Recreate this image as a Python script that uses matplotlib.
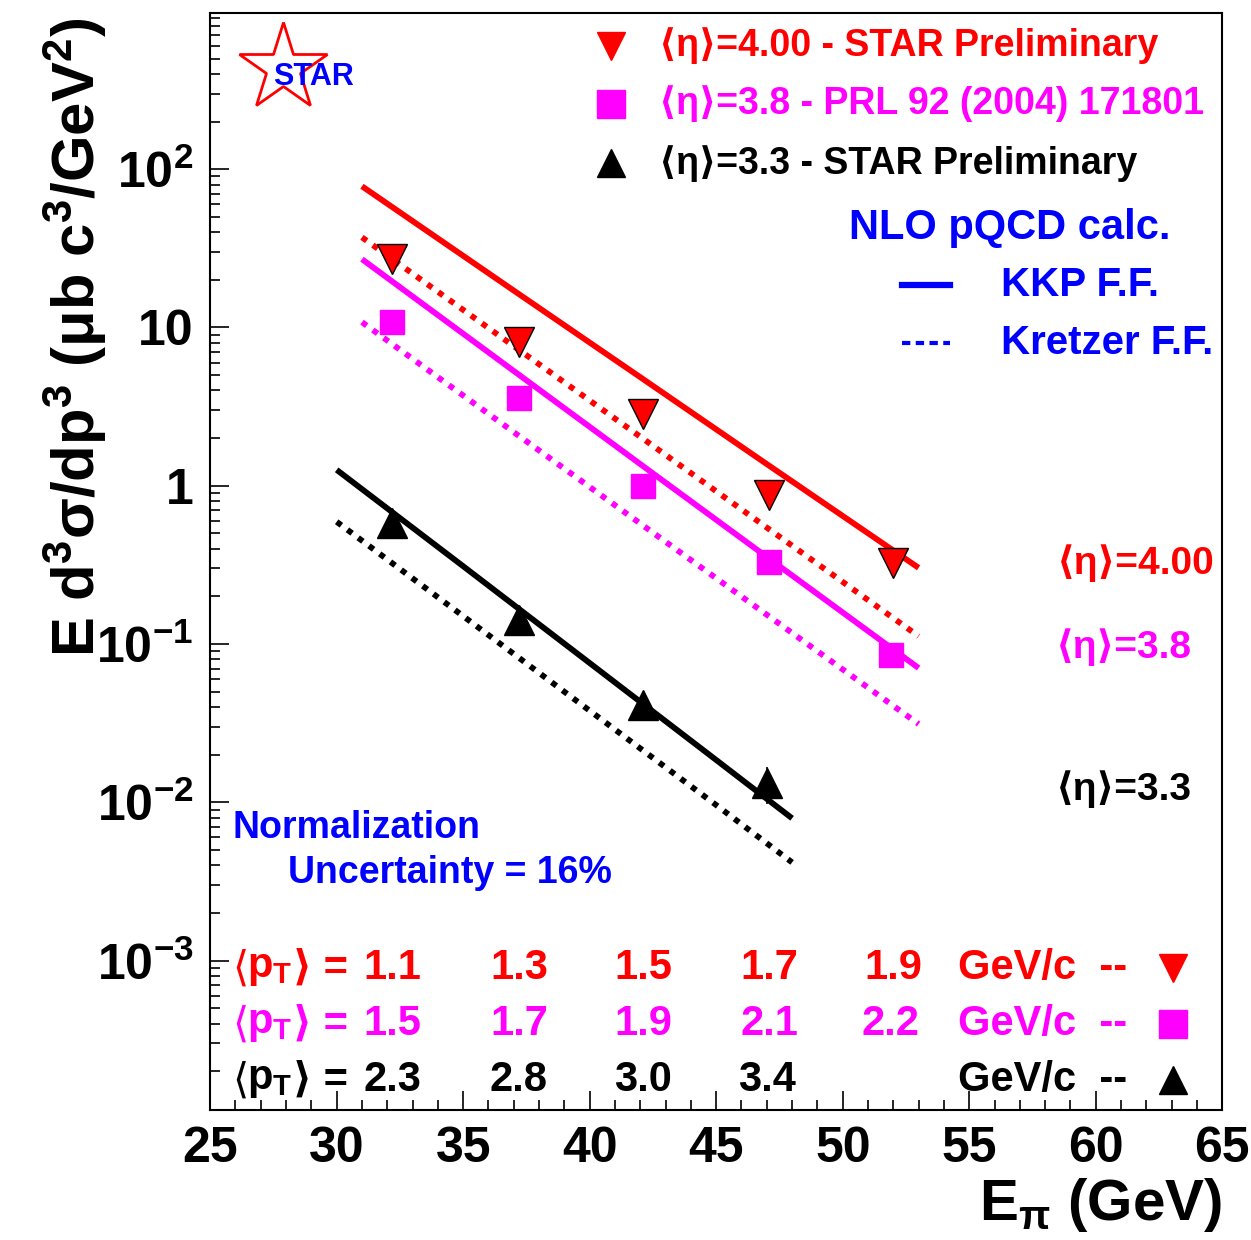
import numpy as np
import matplotlib
matplotlib.use("Agg")
import matplotlib.pyplot as plt
from matplotlib.ticker import FixedLocator, FixedFormatter, LogLocator, MultipleLocator, NullFormatter

plt.rcParams["font.family"] = ["Liberation Sans", "DejaVu Sans"]
plt.rcParams["mathtext.fontset"] = "custom"
plt.rcParams["mathtext.rm"] = "Liberation Sans"
plt.rcParams["mathtext.bf"] = "Liberation Sans:bold"
plt.rcParams["mathtext.it"] = "Liberation Sans:italic"

RED, MAG, BLK, BLUE = "#ff0000", "#ff00ff", "#000000", "#0000ff"

# ─── Data ─────────────────────────────────────────────────────────────────────
# measured points
e_eta400 = [32.2, 37.2, 42.1, 47.1, 52.0]
y_eta400 = [27.0, 8.15, 2.86, 0.877, 0.326]
err_eta400 = [2.0, 0.6, 0.2, 0.07, 0.04]

e_eta38 = [32.2, 37.2, 42.1, 47.1, 51.9]
y_eta38 = [10.8, 3.6, 1.0, 0.33, 0.085]
err_eta38 = [1.8, 0.3, 0.08, 0.03, 0.012]

e_eta33 = [32.2, 37.2, 42.1, 47.0]
y_eta33 = [0.583, 0.142, 0.041, 0.0132]
err_eta33 = [0.04, 0.012, 0.004, 0.0035]

# NLO pQCD curves (KKP solid, Kretzer dotted)
e_curve_fwd = [31, 37, 42, 47, 53]
kkp_eta400 = [78.0, 17.1, 4.85, 1.37, 0.303]
kre_eta400 = [37.1, 7.62, 2.04, 0.544, 0.112]
kkp_eta38 = [27.0, 5.31, 1.37, 0.355, 0.0705]
kre_eta38 = [10.8, 2.18, 0.577, 0.153, 0.0312]

e_curve_33 = [30, 35, 40, 45, 48]
kkp_eta33 = [1.26, 0.31, 0.0758, 0.0185, 0.00792]
kre_eta33 = [0.592, 0.150, 0.0379, 0.0096, 0.00417]

# mean pT per energy point
pt_eta400 = ["1.1", "1.3", "1.5", "1.7", "1.9"]
pt_eta38 = ["1.5", "1.7", "1.9", "2.1", "2.2"]
pt_eta33 = ["2.3", "2.8", "3.0", "3.4"]

ytick_vals = [1e-3, 1e-2, 1e-1, 1, 10, 100]
ytick_labels = [r"$\mathbf{10^{-3}}$", r"$\mathbf{10^{-2}}$", r"$\mathbf{10^{-1}}$",
                "1", "10", r"$\mathbf{10^{2}}$"]

# ─── Figure ───────────────────────────────────────────────────────────────────
fig = plt.figure(figsize=(12.51, 12.40), dpi=100)
ax = fig.add_axes([0.168, 0.105, 0.809, 0.8845])
ax.set_yscale("log")
ax.set_xlim(25, 65)
ax.set_ylim(1.14e-4, 970)

dot = (0, (1.0, 1.3))
ax.plot(e_curve_fwd, kkp_eta400, color=RED, lw=4.2, solid_capstyle="butt")
ax.plot(e_curve_fwd, kre_eta400, color=RED, lw=4.2, ls=dot)
ax.plot(e_curve_fwd, kkp_eta38, color=MAG, lw=4.2, solid_capstyle="butt")
ax.plot(e_curve_fwd, kre_eta38, color=MAG, lw=4.2, ls=dot)
ax.plot(e_curve_33, kkp_eta33, color=BLK, lw=4.2, solid_capstyle="butt")
ax.plot(e_curve_33, kre_eta33, color=BLK, lw=4.2, ls=dot)

ax.errorbar(e_eta400, y_eta400, yerr=err_eta400, fmt="v", ms=21, color=RED,
            mec=BLK, mew=1.0, ecolor=BLK, elinewidth=1.2, capsize=0, zorder=5)
ax.errorbar(e_eta38, y_eta38, yerr=err_eta38, fmt="s", ms=17, color=MAG,
            mec=MAG, ecolor=BLK, elinewidth=1.2, capsize=0, zorder=5)
ax.errorbar(e_eta33, y_eta33, yerr=err_eta33, fmt="^", ms=21, color=BLK,
            ecolor=BLK, elinewidth=1.2, capsize=0, zorder=5)

# axes styling (ROOT-like)
for s in ax.spines.values():
    s.set_linewidth(1.5)
ax.yaxis.set_major_locator(FixedLocator(ytick_vals))
ax.yaxis.set_major_formatter(FixedFormatter(ytick_labels))
ax.yaxis.set_minor_locator(LogLocator(base=10, subs=np.arange(2, 10), numticks=20))
ax.yaxis.set_minor_formatter(NullFormatter())
ax.xaxis.set_major_locator(MultipleLocator(5))
ax.xaxis.set_minor_locator(MultipleLocator(1))
ax.tick_params(which="both", direction="in", top=False, right=False, width=1.2)
ax.tick_params(which="major", length=14)
ax.tick_params(which="minor", length=7)
ax.tick_params(axis="both", labelsize=36, pad=12)
for lab in ax.get_xticklabels() + ax.get_yticklabels():
    lab.set_fontweight("bold")

fig.text(0.06, 0.728, r"E d$\mathbf{^3}$σ/dp$\mathbf{^3}$ (μb c$\mathbf{^3}$/GeV$\mathbf{^2}$)",
         rotation=90, ha="center", va="center", fontsize=43, fontweight="bold")
fig.text(0.977, 0.028, r"E$_\mathbf{π}$ (GeV)", ha="right", va="center",
         fontsize=42, fontweight="bold")

T = ax.transAxes
# legend block
legend_rows = [("v", RED, "⟨η⟩=4.00 - STAR Preliminary", 0.970),
               ("s", MAG, "⟨η⟩=3.8 - PRL 92 (2004) 171801", 0.917),
               ("^", BLK, "⟨η⟩=3.3 - STAR Preliminary", 0.863)]
for mk, col, txt, fy in legend_rows:
    ax.plot([0.396], [fy], marker=mk, ms=20, color=col, transform=T, clip_on=False)
    ax.text(0.443, fy, txt, color=col, fontsize=27, fontweight="bold",
            transform=T, ha="left", va="center")

ax.text(0.790, 0.804, "NLO pQCD calc.", color=BLUE, fontsize=30, fontweight="bold",
        transform=T, ha="center", va="center")
ax.plot([0.684, 0.731], [0.752, 0.752], color=BLUE, lw=4.5, transform=T)
ax.text(0.781, 0.752, "KKP F.F.", color=BLUE, fontsize=29, fontweight="bold",
        transform=T, ha="left", va="center")
ax.plot([0.684, 0.731], [0.699, 0.699], color=BLUE, lw=3, ls=(0, (2.0, 1.3)), transform=T)
ax.text(0.781, 0.699, "Kretzer F.F.", color=BLUE, fontsize=29, fontweight="bold",
        transform=T, ha="left", va="center")

ax.text(0.993, 0.4986, "⟨η⟩=4.00", color=RED, fontsize=28, fontweight="bold",
        transform=T, ha="right", va="center")
ax.text(0.970, 0.422, "⟨η⟩=3.8", color=MAG, fontsize=28, fontweight="bold",
        transform=T, ha="right", va="center")
ax.text(0.970, 0.292, "⟨η⟩=3.3", color=BLK, fontsize=28, fontweight="bold",
        transform=T, ha="right", va="center")

ax.text(0.0217, 0.257, "Normalization", color=BLUE, fontsize=27, fontweight="bold",
        transform=T, ha="left", va="center")
ax.text(0.077, 0.216, "Uncertainty = 16%", color=BLUE, fontsize=27, fontweight="bold",
        transform=T, ha="left", va="center")

# STAR logo
ax.plot([0.072], [0.950], marker="*", ms=66, mfc="none", mec=RED, mew=2.0,
        transform=T, clip_on=False)
ax.text(0.102, 0.942, "STAR", color=BLUE, fontsize=22, fontweight="bold",
        transform=T, ha="center", va="center")

# mean pT rows
pt_rows = [(pt_eta400, e_eta400, RED, "v", 0.129),
           (pt_eta38, e_eta38, MAG, "s", 0.078),
           (pt_eta33, e_eta33, BLK, "^", 0.027)]
for labels, xs, col, mk, fy in pt_rows:
    # angle brackets drawn separately so they get a font that has them
    ax.text(0.0217, fy, "⟨", color=col, fontsize=30, family="DejaVu Sans",
            transform=T, ha="left", va="center")
    ax.text(0.0366, fy, r"p$_\mathbf{T}$", color=col, fontsize=30, fontweight="bold",
            transform=T, ha="left", va="center")
    ax.text(0.0815, fy, "⟩ =", color=col, fontsize=30, fontweight="bold",
            transform=T, ha="left", va="center")
    for lab, x in zip(labels, xs):
        ax.text((x - 25) / 40, fy, lab, color=col, fontsize=30, fontweight="bold",
                transform=T, ha="center", va="center")
    ax.text(0.739, fy, "GeV/c  --", color=col, fontsize=30, fontweight="bold",
            transform=T, ha="left", va="center")
    ax.plot([0.951], [fy], marker=mk, ms=20, color=col, transform=T, clip_on=False)

fig.savefig("out.png", dpi=100)
